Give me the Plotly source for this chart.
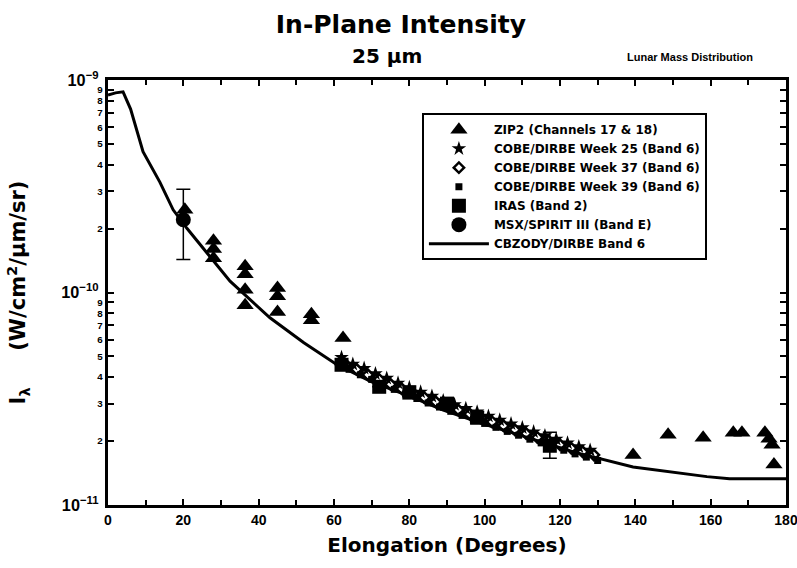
import plotly.graph_objects as go

# ---- data ----
model_x = [0, 2, 4, 6, 9.3, 13.8, 17.3, 21, 27, 32.4, 43, 52, 60.8, 70, 80, 89, 100,
           116.5, 124.5, 139.4, 150, 159, 165, 180]
model_y = [8.5e-10, 8.7e-10, 8.8e-10, 7.3e-10, 4.6e-10, 3.3e-10, 2.45e-10, 2.0e-10,
           1.48e-10, 1.13e-10, 7.6e-11, 5.8e-11, 4.57e-11, 3.8e-11, 3.25e-11, 2.8e-11,
           2.4e-11, 1.95e-11, 1.76e-11, 1.51e-11, 1.43e-11, 1.36e-11, 1.33e-11, 1.33e-11]

zip2_x = [20.4, 28, 28, 28, 36.4, 36.4, 36.4, 36.4, 45, 45, 45, 54, 54, 62.4,
          139.4, 148.7, 158, 166, 168.3, 174.4, 175.5, 176.3, 176.8]
zip2_y = [2.45e-10, 1.75e-10, 1.6e-10, 1.45e-10, 1.33e-10, 1.22e-10, 1.03e-10, 8.7e-11,
          1.05e-10, 9.6e-11, 8.1e-11, 7.9e-11, 7.4e-11, 6.1e-11,
          1.72e-11, 2.14e-11, 2.07e-11, 2.19e-11, 2.19e-11, 2.19e-11, 2.05e-11, 1.92e-11, 1.55e-11]

w25_x = [62, 65, 68, 71, 74, 77, 80, 83, 86, 89, 92, 95, 98, 101, 104, 107, 110,
         113, 116, 119, 122, 125, 128]
w25_y = [4.95e-11, 4.6e-11, 4.4e-11, 4.15e-11, 3.95e-11, 3.75e-11, 3.57e-11, 3.4e-11,
         3.25e-11, 3.1e-11, 2.97e-11, 2.85e-11, 2.74e-11, 2.62e-11, 2.51e-11, 2.41e-11,
         2.31e-11, 2.21e-11, 2.12e-11, 2.04e-11, 1.96e-11, 1.88e-11, 1.81e-11]

w37_x = [63, 66, 69, 72, 75, 78, 81, 84, 87, 90, 93, 96, 99, 102, 105, 108, 111,
         114, 117, 120, 123, 126, 129]
w37_y = [4.6e-11, 4.35e-11, 4.1e-11, 3.9e-11, 3.7e-11, 3.52e-11, 3.36e-11, 3.2e-11,
         3.06e-11, 2.93e-11, 2.8e-11, 2.68e-11, 2.57e-11, 2.46e-11, 2.36e-11, 2.26e-11,
         2.17e-11, 2.08e-11, 2.0e-11, 1.92e-11, 1.85e-11, 1.78e-11, 1.72e-11]

w39_x = [64, 67, 70, 73, 76, 79, 82, 85, 88, 91, 94, 97, 100, 103, 106, 109, 112,
         115, 118, 121, 124, 127, 130]
w39_y = [4.35e-11, 4.1e-11, 3.9e-11, 3.7e-11, 3.5e-11, 3.33e-11, 3.17e-11, 3.02e-11,
         2.89e-11, 2.76e-11, 2.64e-11, 2.53e-11, 2.42e-11, 2.32e-11, 2.22e-11, 2.13e-11,
         2.04e-11, 1.96e-11, 1.89e-11, 1.81e-11, 1.74e-11, 1.68e-11, 1.62e-11]

iras_x = [62, 72, 80, 90, 98, 117.3]
iras_y = [4.57e-11, 3.6e-11, 3.38e-11, 3.0e-11, 2.58e-11, 1.9e-11]
iras_err_plus = [0, 0, 0, 0, 0.17e-11, 0.3e-11]
iras_err_minus = [0, 0, 0, 0, 0.17e-11, 0.24e-11]

msx_x = [20]
msx_y = [2.2e-10]
msx_err_plus = [0.86e-10]
msx_err_minus = [0.77e-10]

FONT = "Liberation Sans, Arial, sans-serif"
WIDE = "DejaVu Sans, Liberation Sans, sans-serif"

fig = go.Figure()

fig.add_trace(go.Scatter(
    x=zip2_x, y=zip2_y, mode="markers", name="ZIP2 (Channels 17 & 18)",
    marker=dict(symbol="triangle-up", size=15, color="black")))
fig.add_trace(go.Scatter(
    x=w25_x, y=w25_y, mode="markers", name="COBE/DIRBE Week 25 (Band 6)",
    marker=dict(symbol="star", size=11, color="black")))
fig.add_trace(go.Scatter(
    x=w37_x, y=w37_y, mode="markers", name="COBE/DIRBE Week 37 (Band 6)",
    marker=dict(symbol="diamond-open", size=8, color="black", line=dict(width=2.5))))
fig.add_trace(go.Scatter(
    x=w39_x, y=w39_y, mode="markers", name="COBE/DIRBE Week 39 (Band 6)",
    marker=dict(symbol="square", size=7, color="black")))
fig.add_trace(go.Scatter(
    x=iras_x, y=iras_y, mode="markers", name="IRAS (Band 2)",
    marker=dict(symbol="square", size=14, color="black"),
    error_y=dict(type="data", symmetric=False, array=iras_err_plus,
                 arrayminus=iras_err_minus, color="black", thickness=1.5, width=7)))
fig.add_trace(go.Scatter(
    x=msx_x, y=msx_y, mode="markers", name="MSX/SPIRIT III (Band E)",
    marker=dict(symbol="circle", size=15, color="black"),
    error_y=dict(type="data", symmetric=False, array=msx_err_plus,
                 arrayminus=msx_err_minus, color="black", thickness=1.5, width=7)))
fig.add_trace(go.Scatter(
    x=model_x, y=model_y, mode="lines", name="CBZODY/DIRBE Band 6",
    line=dict(color="black", width=3)))

axis_common = dict(
    showline=True, linecolor="black", linewidth=2.5, mirror="ticks",
    ticks="inside", tickcolor="black", showgrid=False, zeroline=False,
    automargin=False, ticklabeloverflow="allow",
)

fig.update_xaxes(
    range=[0, 180], dtick=20, tick0=0, ticklen=6, tickwidth=2,
    minor=dict(dtick=10, ticks="inside", ticklen=5, tickcolor="black", tickwidth=2),
    tickfont=dict(family=FONT, size=14, color="black", weight="bold"),
    title=dict(text="Elongation (Degrees)", standoff=12,
               font=dict(family=WIDE, size=20, color="black", weight="bold")),
    **axis_common)

fig.update_yaxes(
    type="log", range=[-11, -9], dtick="D1", exponentformat="power",
    ticklen=6, tickwidth=2,
    tickfont=dict(family=FONT, size=13, color="black", weight="bold"),
    title=dict(text="I<sub>λ</sub>     (W/cm<sup>2</sup>/μm/sr)", standoff=30,
               font=dict(family=WIDE, size=21, color="black", weight="bold")),
    **axis_common)

fig.update_layout(
    width=797, height=568,
    margin=dict(l=108, r=11, t=80, b=63),
    paper_bgcolor="white", plot_bgcolor="white",
    font=dict(family=FONT, color="black"),
    showlegend=True,
    legend=dict(
        x=0.463, y=0.922, xanchor="left", yanchor="top",
        bgcolor="white", bordercolor="black", borderwidth=2,
        font=dict(family=WIDE, size=12, color="black", weight="bold"),
        itemwidth=60, tracegroupgap=0,
    ),
    title=dict(text="In-Plane Intensity", x=0.503, xanchor="center",
               y=0.958, yanchor="middle",
               font=dict(family=WIDE, size=25, color="black", weight="bold")),
    annotations=[
        dict(text="25 μm", xref="paper", yref="paper", x=0.412, y=1.0,
             yshift=24, xanchor="center", yanchor="middle", showarrow=False,
             font=dict(family=WIDE, size=20, color="black", weight="bold")),
        dict(text="Lunar Mass Distribution", xref="paper", yref="paper",
             x=0.858, y=1.0, yshift=23, xanchor="center", yanchor="middle",
             showarrow=False,
             font=dict(family=FONT, size=11, color="black", weight="bold")),
    ],
)

fig.write_html("out.html", config={"displayModeBar": False},
               post_script="document.body.style.margin='0';")
